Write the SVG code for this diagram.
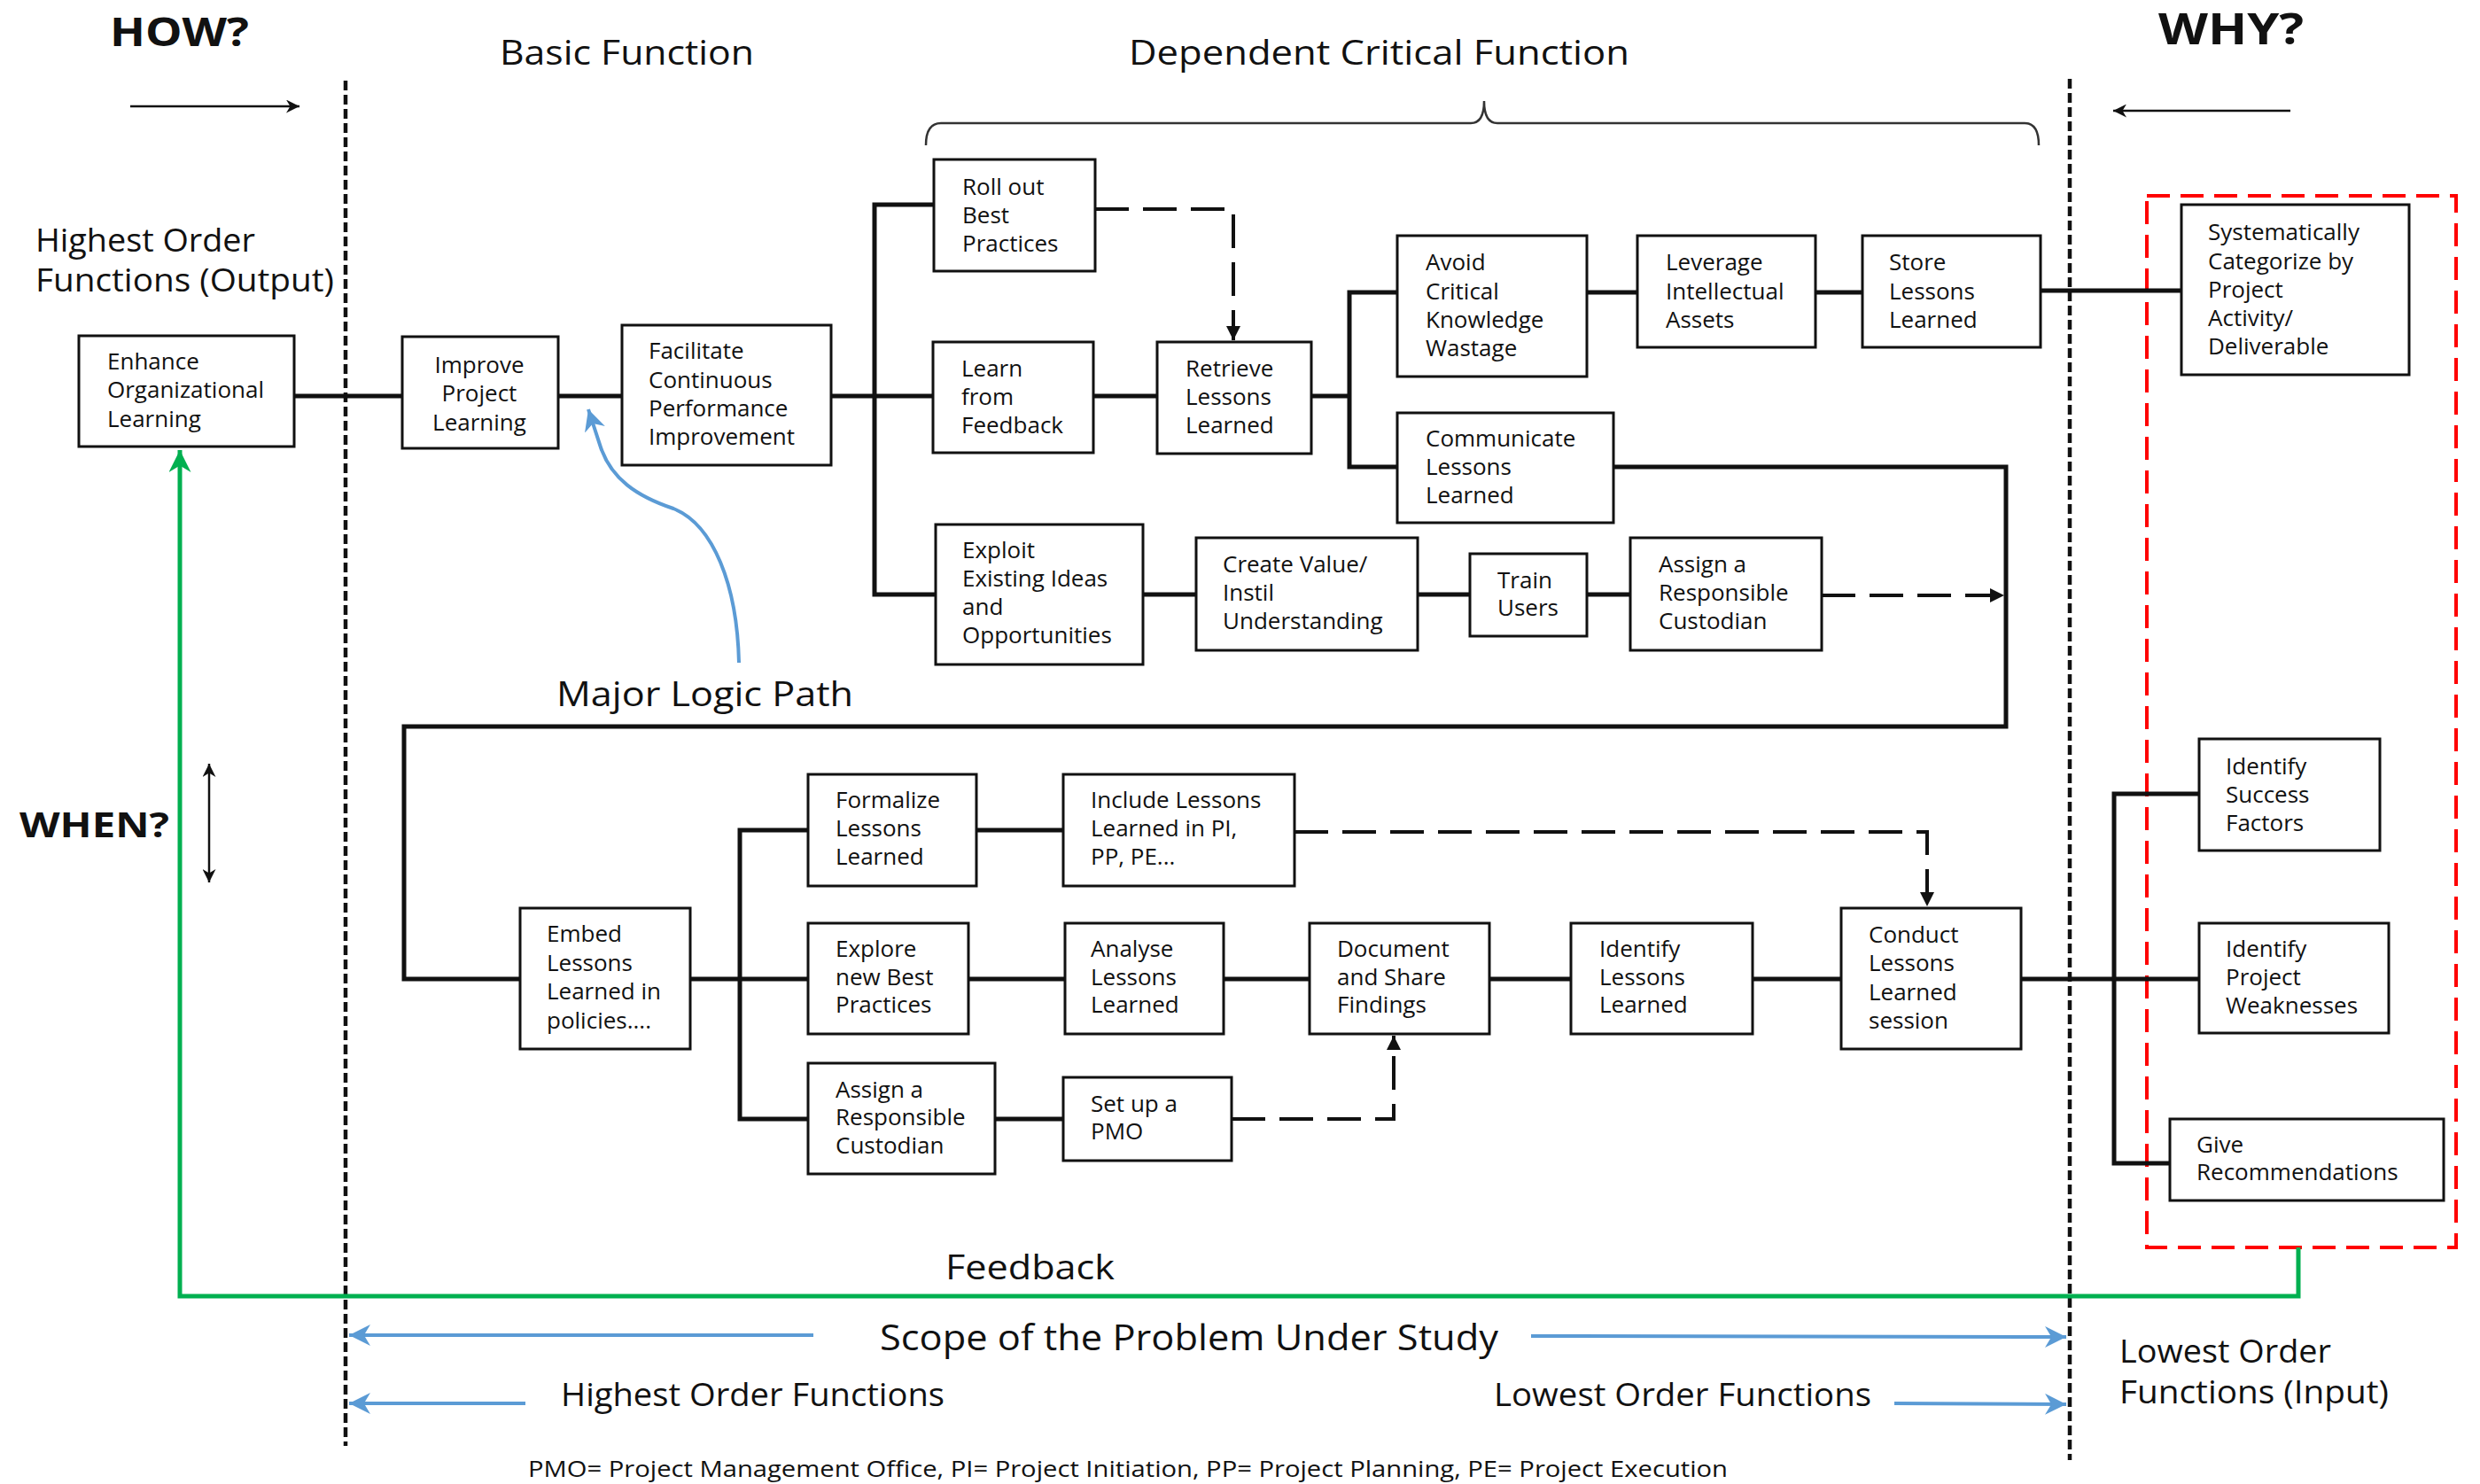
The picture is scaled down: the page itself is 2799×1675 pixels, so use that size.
<svg xmlns="http://www.w3.org/2000/svg" width="2799" height="1675" viewBox="0 0 2799 1675">
  <style>
    text { font-family: "Open Sans", "Liberation Sans", sans-serif; fill: #111; }
    .lbl { font-size: 26px; }
    .head { font-size: 38px; }
    .big { font-weight: bold; }
    .box { fill: #fff; stroke: #111; stroke-width: 3; }
    .link { fill: none; stroke: #111; stroke-width: 5; }
    .dash { fill: none; stroke: #111; stroke-width: 4; stroke-dasharray: 38 16; }
    .divider { fill: none; stroke: #111; stroke-width: 4.5; stroke-dasharray: 11 5; }
    .thin { fill: none; stroke: #111; stroke-width: 2.5; }
    .blue { fill: none; stroke: #5b9bd5; stroke-width: 4; }
    .green { fill: none; stroke: #00b050; stroke-width: 5; }
    .red { fill: none; stroke: #ff0000; stroke-width: 4; stroke-dasharray: 26 12; }
  </style>
  <defs>
    <marker id="ah" viewBox="0 0 10 10" refX="10" refY="5" markerWidth="4" markerHeight="4" markerUnits="strokeWidth" orient="auto">
      <path d="M0,0 L10,5 L0,10 z" fill="#111"/>
    </marker>
    <marker id="ahThin" viewBox="0 0 10 10" refX="10" refY="5" markerWidth="6" markerHeight="6" markerUnits="strokeWidth" orient="auto-start-reverse">
      <path d="M0,0 L10,5 L0,10 L3,5 z" fill="#111"/>
    </marker>
    <marker id="ahBlue" viewBox="0 0 10 10" refX="10" refY="5" markerWidth="6" markerHeight="6" markerUnits="strokeWidth" orient="auto">
      <path d="M0,0 L10,5 L0,10 L3,5 z" fill="#5b9bd5"/>
    </marker>
    <marker id="ahGreen" viewBox="0 0 10 10" refX="10" refY="5" markerWidth="5" markerHeight="5" markerUnits="strokeWidth" orient="auto">
      <path d="M0,0 L10,5 L0,10 L3,5 z" fill="#00b050"/>
    </marker>
  </defs>

  <rect width="2799" height="1675" fill="#fff"/>

  <!-- Axis headings -->
  <g id="headings">
    <text class="big" x="124" y="52" font-size="44" textLength="157" lengthAdjust="spacingAndGlyphs">HOW?</text>
    <text class="big" x="2436" y="50" font-size="48" textLength="164" lengthAdjust="spacingAndGlyphs">WHY?</text>
    <text class="big" x="22" y="945" font-size="40" textLength="169" lengthAdjust="spacingAndGlyphs">WHEN?</text>
    <text class="head" x="564" y="73" textLength="287" lengthAdjust="spacingAndGlyphs">Basic Function</text>
    <text class="head" x="1274" y="73" textLength="565" lengthAdjust="spacingAndGlyphs">Dependent Critical Function</text>
    <text font-size="36" x="40" y="284" textLength="248" lengthAdjust="spacingAndGlyphs">Highest Order</text>
    <text font-size="36" x="40" y="329" textLength="337" lengthAdjust="spacingAndGlyphs">Functions (Output)</text>
    <text class="head" x="628" y="797" textLength="335" lengthAdjust="spacingAndGlyphs">Major Logic Path</text>
    <text class="head" x="1067" y="1444" textLength="191" lengthAdjust="spacingAndGlyphs">Feedback</text>
    <text font-size="40" x="993" y="1524" textLength="698" lengthAdjust="spacingAndGlyphs">Scope of the Problem Under Study</text>
    <text font-size="36" x="633" y="1587" textLength="433" lengthAdjust="spacingAndGlyphs">Highest Order Functions</text>
    <text font-size="36" x="1686" y="1587" textLength="426" lengthAdjust="spacingAndGlyphs">Lowest Order Functions</text>
    <text font-size="36" x="2392" y="1538" textLength="239" lengthAdjust="spacingAndGlyphs">Lowest Order</text>
    <text font-size="36" x="2392" y="1584" textLength="304" lengthAdjust="spacingAndGlyphs">Functions (Input)</text>
    <text font-size="26" x="596" y="1667" textLength="1354" lengthAdjust="spacingAndGlyphs">PMO= Project Management Office, PI= Project Initiation, PP= Project Planning, PE= Project Execution</text>
  </g>

  <!-- Scope dividers, direction arrows, brace -->
  <g id="frame">
    <line class="divider" x1="390" y1="91" x2="390" y2="1632"/>
    <line class="divider" x1="2336" y1="89" x2="2336" y2="1648"/>
    <line class="thin" x1="147" y1="120" x2="338" y2="120" marker-end="url(#ahThin)"/>
    <line class="thin" x1="2585" y1="125" x2="2385" y2="125" marker-end="url(#ahThin)"/>
    <line class="thin" x1="236" y1="862" x2="236" y2="996" marker-start="url(#ahThin)" marker-end="url(#ahThin)"/>
    <path d="M1045,164 Q1045,139 1062,139 L1660,139 Q1675,139 1675,114 Q1675,139 1690,139 L2285,139 Q2301,139 2301,164" fill="none" stroke="#333" stroke-width="2.5"/>
    <rect class="red" x="2423" y="221" width="349" height="1187"/>
  </g>

  <!-- Connectors -->
  <g id="connectors">
    <!-- upper main path -->
    <path class="link" d="M332,447 H454 M630,447 H702 M938,447 H1053 M1234,447 H1306 M1480,447 H1523"/>
    <path class="link" d="M1054,231 H987 V671 H1056"/>
    <path class="link" d="M1577,330 H1523 V527 H1577"/>
    <path class="link" d="M1791,330 H1848 M2049,330 H2102 M2303,328 H2462"/>
    <path class="link" d="M1290,671 H1350 M1600,671 H1659 M1791,671 H1840"/>
    <!-- loop down to lower path -->
    <path class="link" d="M1821,527 H2264 V820 H456 V1105 H587"/>
    <!-- lower path -->
    <path class="link" d="M779,1105 H912 M1093,1105 H1202 M1381,1105 H1478 M1681,1105 H1773 M1978,1105 H2078 M2281,1105 H2482"/>
    <path class="link" d="M912,937 H835 V1263 H912"/>
    <path class="link" d="M1102,937 H1200 M1123,1263 H1200"/>
    <path class="link" d="M2482,896 H2386 V1313 H2449"/>
    <!-- dashed dependencies -->
    <path class="dash" d="M1236,236 H1392 V384" marker-end="url(#ah)"/>
    <path class="dash" d="M2056,672 H2262" marker-end="url(#ah)"/>
    <path class="dash" d="M1461,939 H2175 V1023" marker-end="url(#ah)"/>
    <path class="dash" d="M1390,1263 H1573 V1169" marker-end="url(#ah)"/>
    <!-- feedback loop -->
    <path class="green" d="M2594,1408 V1463 H203 V508" marker-end="url(#ahGreen)"/>
    <!-- major logic path pointer -->
    <path class="blue" d="M834,748 C832,660 805,592 760,574 C718,560 690,540 678,505 L664,462" marker-end="url(#ahBlue)"/>
    <!-- scope arrows -->
    <line class="blue" x1="918" y1="1507" x2="394" y2="1507" marker-end="url(#ahBlue)"/>
    <line class="blue" x1="1728" y1="1508" x2="2332" y2="1509" marker-end="url(#ahBlue)"/>
    <line class="blue" x1="593" y1="1584" x2="394" y2="1584" marker-end="url(#ahBlue)"/>
    <line class="blue" x1="2138" y1="1584" x2="2332" y2="1585" marker-end="url(#ahBlue)"/>
  </g>

  <!-- Function nodes -->
  <g id="n-enhance"><rect class="box" x="89" y="379" width="243" height="125"/>
    <text class="lbl" x="121" y="417">Enhance</text><text class="lbl" x="121" y="449">Organizational</text><text class="lbl" x="121" y="482">Learning</text></g>
  <g id="n-improve"><rect class="box" x="454" y="380" width="176" height="126"/>
    <text class="lbl" x="541" y="421" text-anchor="middle">Improve</text><text class="lbl" x="541" y="453" text-anchor="middle">Project</text><text class="lbl" x="541" y="486" text-anchor="middle">Learning</text></g>
  <g id="n-facilitate"><rect class="box" x="702" y="367" width="236" height="158"/>
    <text class="lbl" x="732" y="405">Facilitate</text><text class="lbl" x="732" y="438">Continuous</text><text class="lbl" x="732" y="470">Performance</text><text class="lbl" x="732" y="502">Improvement</text></g>
  <g id="n-rollout"><rect class="box" x="1054" y="180" width="182" height="126"/>
    <text class="lbl" x="1086" y="220">Roll out</text><text class="lbl" x="1086" y="252">Best</text><text class="lbl" x="1086" y="284">Practices</text></g>
  <g id="n-learn"><rect class="box" x="1053" y="386" width="181" height="125"/>
    <text class="lbl" x="1085" y="425">Learn</text><text class="lbl" x="1085" y="457">from</text><text class="lbl" x="1085" y="489">Feedback</text></g>
  <g id="n-retrieve"><rect class="box" x="1306" y="386" width="174" height="126"/>
    <text class="lbl" x="1338" y="425">Retrieve</text><text class="lbl" x="1338" y="457">Lessons</text><text class="lbl" x="1338" y="489">Learned</text></g>
  <g id="n-avoid"><rect class="box" x="1577" y="266" width="214" height="159"/>
    <text class="lbl" x="1609" y="305">Avoid</text><text class="lbl" x="1609" y="338">Critical</text><text class="lbl" x="1609" y="370">Knowledge</text><text class="lbl" x="1609" y="402">Wastage</text></g>
  <g id="n-leverage"><rect class="box" x="1848" y="266" width="201" height="126"/>
    <text class="lbl" x="1880" y="305">Leverage</text><text class="lbl" x="1880" y="338">Intellectual</text><text class="lbl" x="1880" y="370">Assets</text></g>
  <g id="n-store"><rect class="box" x="2102" y="266" width="201" height="126"/>
    <text class="lbl" x="2132" y="305">Store</text><text class="lbl" x="2132" y="338">Lessons</text><text class="lbl" x="2132" y="370">Learned</text></g>
  <g id="n-communicate"><rect class="box" x="1577" y="466" width="244" height="124"/>
    <text class="lbl" x="1609" y="504">Communicate</text><text class="lbl" x="1609" y="536">Lessons</text><text class="lbl" x="1609" y="568">Learned</text></g>
  <g id="n-categorize"><rect class="box" x="2462" y="231" width="257" height="192"/>
    <text class="lbl" x="2492" y="271">Systematically</text><text class="lbl" x="2492" y="304">Categorize by</text><text class="lbl" x="2492" y="336">Project</text><text class="lbl" x="2492" y="368">Activity/</text><text class="lbl" x="2492" y="400">Deliverable</text></g>
  <g id="n-exploit"><rect class="box" x="1056" y="592" width="234" height="158"/>
    <text class="lbl" x="1086" y="630">Exploit</text><text class="lbl" x="1086" y="662">Existing Ideas</text><text class="lbl" x="1086" y="694">and</text><text class="lbl" x="1086" y="726">Opportunities</text></g>
  <g id="n-createvalue"><rect class="box" x="1350" y="607" width="250" height="127"/>
    <text class="lbl" x="1380" y="646">Create Value/</text><text class="lbl" x="1380" y="678">Instil</text><text class="lbl" x="1380" y="710">Understanding</text></g>
  <g id="n-train"><rect class="box" x="1659" y="625" width="132" height="93"/>
    <text class="lbl" x="1690" y="664">Train</text><text class="lbl" x="1690" y="695">Users</text></g>
  <g id="n-custodian1"><rect class="box" x="1840" y="607" width="216" height="127"/>
    <text class="lbl" x="1872" y="646">Assign a</text><text class="lbl" x="1872" y="678">Responsible</text><text class="lbl" x="1872" y="710">Custodian</text></g>
  <g id="n-success"><rect class="box" x="2482" y="834" width="204" height="126"/>
    <text class="lbl" x="2512" y="874">Identify</text><text class="lbl" x="2512" y="906">Success</text><text class="lbl" x="2512" y="938">Factors</text></g>
  <g id="n-formalize"><rect class="box" x="912" y="874" width="190" height="126"/>
    <text class="lbl" x="943" y="912">Formalize</text><text class="lbl" x="943" y="944">Lessons</text><text class="lbl" x="943" y="976">Learned</text></g>
  <g id="n-include"><rect class="box" x="1200" y="874" width="261" height="126"/>
    <text class="lbl" x="1231" y="912">Include Lessons</text><text class="lbl" x="1231" y="944">Learned in PI,</text><text class="lbl" x="1231" y="976">PP, PE...</text></g>
  <g id="n-embed"><rect class="box" x="587" y="1025" width="192" height="159"/>
    <text class="lbl" x="617" y="1063">Embed</text><text class="lbl" x="617" y="1096">Lessons</text><text class="lbl" x="617" y="1128">Learned in</text><text class="lbl" x="617" y="1161">policies....</text></g>
  <g id="n-explore"><rect class="box" x="912" y="1042" width="181" height="125"/>
    <text class="lbl" x="943" y="1080">Explore</text><text class="lbl" x="943" y="1112">new Best</text><text class="lbl" x="943" y="1143">Practices</text></g>
  <g id="n-analyse"><rect class="box" x="1202" y="1042" width="179" height="125"/>
    <text class="lbl" x="1231" y="1080">Analyse</text><text class="lbl" x="1231" y="1112">Lessons</text><text class="lbl" x="1231" y="1143">Learned</text></g>
  <g id="n-document"><rect class="box" x="1478" y="1042" width="203" height="125"/>
    <text class="lbl" x="1509" y="1080">Document</text><text class="lbl" x="1509" y="1112">and Share</text><text class="lbl" x="1509" y="1143">Findings</text></g>
  <g id="n-identify-lessons"><rect class="box" x="1773" y="1042" width="205" height="125"/>
    <text class="lbl" x="1805" y="1080">Identify</text><text class="lbl" x="1805" y="1112">Lessons</text><text class="lbl" x="1805" y="1143">Learned</text></g>
  <g id="n-conduct"><rect class="box" x="2078" y="1025" width="203" height="159"/>
    <text class="lbl" x="2109" y="1064">Conduct</text><text class="lbl" x="2109" y="1096">Lessons</text><text class="lbl" x="2109" y="1129">Learned</text><text class="lbl" x="2109" y="1161">session</text></g>
  <g id="n-weaknesses"><rect class="box" x="2482" y="1042" width="214" height="124"/>
    <text class="lbl" x="2512" y="1080">Identify</text><text class="lbl" x="2512" y="1112">Project</text><text class="lbl" x="2512" y="1144">Weaknesses</text></g>
  <g id="n-custodian2"><rect class="box" x="912" y="1200" width="211" height="125"/>
    <text class="lbl" x="943" y="1239">Assign a</text><text class="lbl" x="943" y="1270">Responsible</text><text class="lbl" x="943" y="1302">Custodian</text></g>
  <g id="n-pmo"><rect class="box" x="1200" y="1216" width="190" height="94"/>
    <text class="lbl" x="1231" y="1255">Set up a</text><text class="lbl" x="1231" y="1286">PMO</text></g>
  <g id="n-recommend"><rect class="box" x="2449" y="1263" width="309" height="92"/>
    <text class="lbl" x="2479" y="1301">Give</text><text class="lbl" x="2479" y="1332">Recommendations</text></g>
</svg>
